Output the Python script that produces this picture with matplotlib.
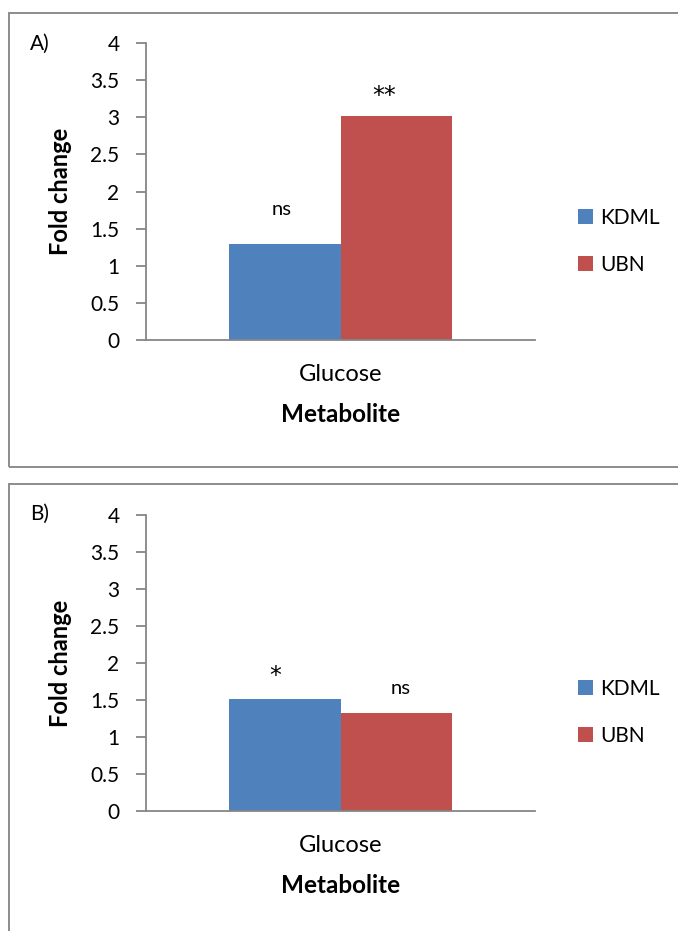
import matplotlib
matplotlib.use("Agg")
import matplotlib.pyplot as plt
from matplotlib.patches import Rectangle, Patch

plt.rcParams['font.family'] = ['Lato', 'DejaVu Sans']

# datos de los dos paneles
panels = ["A)", "B)"]
metabolites = ["Glucose"]
series = ["KDML", "UBN"]
kdml_fold = [1.29, 1.51]
ubn_fold = [3.02, 1.32]
kdml_sig = ["ns", "*"]
ubn_sig = ["**", "ns"]

colors = ["#4F81BD", "#C0504D"]
grey = "#868686"
W, H = 678, 931

fig = plt.figure(figsize=(W / 100, H / 100), dpi=100)

# marcos de cada panel (en pixeles)
frames = [(9, 13, 700, 454), (9, 484, 700, 470)]
for x0, y0, w, h in frames:
    fig.patches.append(Rectangle((x0 / W, 1 - (y0 + h) / H), w / W, h / H,
                                 transform=fig.transFigure, fill=False,
                                 edgecolor="#8c8c8c", linewidth=1.4))

axes_px = [(146, 43, 389, 297), (146, 515, 389, 296)]
label_offsets = [((-2.5, 21), (-8.3, 9.4)), ((-7, 11.5), (3, 14))]
letter_base = [50, 520]

bar_w = 1 / 3.5
for i in range(2):
    x0, y0, w, h = axes_px[i]
    ax = fig.add_axes([x0 / W, 1 - (y0 + h) / H, w / W, h / H])
    vals = [kdml_fold[i], ubn_fold[i]]
    sigs = [kdml_sig[i], ubn_sig[i]]
    for j, (v, s) in enumerate(zip(vals, sigs)):
        xc = (j - 0.5) * bar_w
        ax.bar(xc, v, width=bar_w, color=colors[j], linewidth=0)
        dx, dy = label_offsets[i][j]
        # los asteriscos de Lato son muy chicos
        if "*" in s:
            kw = dict(family="DejaVu Sans", fontsize=17)
        else:
            kw = dict(fontsize=14.5)
        ax.annotate(s, (xc, v), xytext=(dx, dy), textcoords="offset points",
                    ha="center", va="baseline", **kw)

    ax.set_xlim(-0.5, 0.5)
    ax.set_ylim(0, 4)
    ax.set_yticks([0, 0.5, 1, 1.5, 2, 2.5, 3, 3.5, 4])
    ax.set_yticklabels(["0", "0.5", "1", "1.5", "2", "2.5", "3", "3.5", "4"])
    ax.set_xticks([0])
    ax.set_xticklabels(metabolites)
    ax.tick_params(axis="y", length=7, width=1.3, color=grey, pad=12, labelsize=15)
    ax.tick_params(axis="x", length=0, pad=17, labelsize=17)
    for side in ["top", "right"]:
        ax.spines[side].set_visible(False)
    for side in ["left", "bottom"]:
        ax.spines[side].set_color(grey)
        ax.spines[side].set_linewidth(1.3)
    ax.set_xlabel("Metabolite", fontsize=17.5, fontweight="bold", labelpad=13)
    ax.text(-0.221, 0.5, "Fold change", transform=ax.transAxes, rotation=90,
            ha="center", va="center", fontsize=17, fontweight="bold")

    handles = [Patch(facecolor=c, edgecolor="none") for c in colors]
    ax.legend(handles, series, loc="center left", bbox_to_anchor=(1.11, 0.333),
              frameon=False, fontsize=15, handlelength=0.72, handleheight=0.72,
              handletextpad=0.35, labelspacing=1.3, borderpad=0, borderaxespad=0)

    fig.text(30 / W, 1 - letter_base[i] / H, panels[i], ha="left", va="baseline",
             fontsize=15)

fig.savefig("out.png", dpi=100, facecolor="white")
